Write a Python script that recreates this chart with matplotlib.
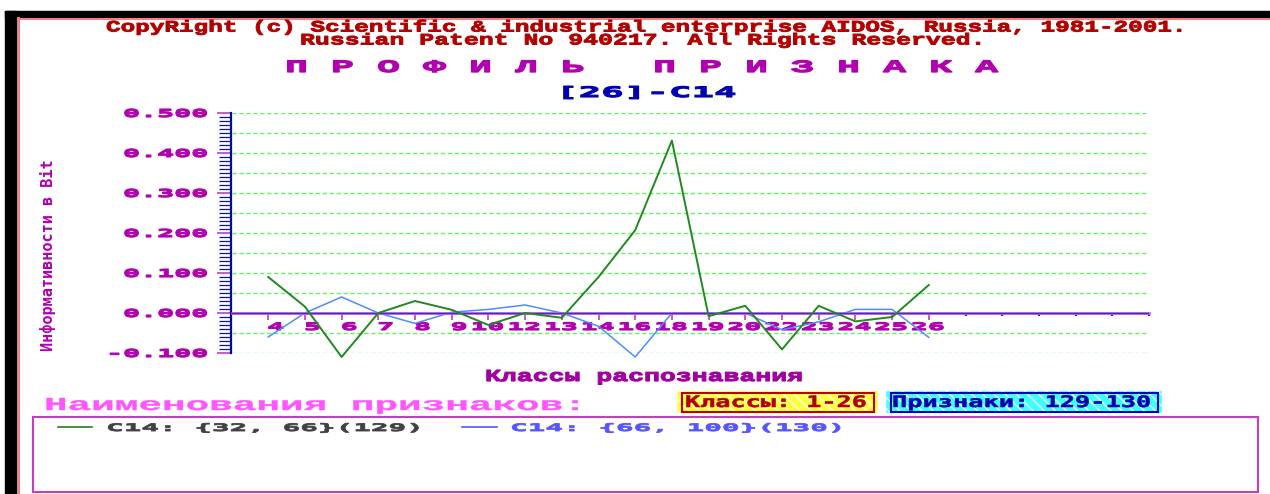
import numpy as np
import matplotlib
matplotlib.use("Agg")
import matplotlib.pyplot as plt
from matplotlib.patches import Rectangle
from matplotlib.patheffects import AbstractPathEffect
from matplotlib.ticker import MultipleLocator
from matplotlib.transforms import Affine2D

W, H = 1270, 494

# classes on the x axis; the axis has a few more empty slots on the right
classes = ["4", "5", "6", "7", "8", "9", "10", "12", "13", "14",
           "16", "18", "19", "20", "22", "23", "24", "25", "26"]
n_slots = 25
# information content (bit) of the two feature gradations per class
feat129 = [0.090, 0.016, -0.110, 0.000, 0.030, 0.008, -0.030, 0.000, -0.012, 0.090,
           0.207, 0.431, -0.008, 0.018, -0.091, 0.018, -0.021, -0.010, 0.070]
feat130 = [-0.060, 0.000, 0.040, 0.000, -0.026, 0.002, 0.009, 0.020, 0.000, -0.033,
           -0.110, 0.000, 0.000, 0.000, -0.042, -0.022, 0.009, 0.009, -0.061]
yticks = [-0.1, 0.0, 0.1, 0.2, 0.3, 0.4, 0.5]
legend_names = ["C14: {32, 66}(129)", "C14: {66, 100}(130)"]

RED = "#b00000"; MAG = "#b000b0"; NAVY = "#0000b0"; GRIDG = "#5cf55c"
GREEN = "#1f8a1f"; BLUE = "#4d8cff"

plt.rcParams["hatch.linewidth"] = 0.9


class Stretch(AbstractPathEffect):
    """Widen glyphs along the baseline (and fatten them a bit), like the old DOS screen font."""
    def __init__(self, sx, lw=0.0):
        super().__init__()
        self.sx = sx
        self.lw = lw

    def draw_path(self, renderer, gc, tpath, affine, rgbFace=None):
        tr = Affine2D().scale(self.sx, 1) + affine
        if self.lw:
            gc0 = renderer.new_gc()
            gc0.copy_properties(gc)
            gc0.set_linewidth(self.lw)
            gc0.set_foreground(rgbFace)
            renderer.draw_path(gc0, tpath, tr, rgbFace)
            gc0.restore()
        else:
            renderer.draw_path(gc, tpath, tr, rgbFace)


FONTS = {"sans": ("DejaVu Sans Mono", 0.729), "slab": ("Liberation Mono", 0.659)}


def wide(x, y, s, cap, pitch, color, font="sans", align="left", lw=0.5):
    # x, y in screen pixels (y down), y is the baseline; cap/pitch in pixels
    family, capr = FONTS[font]
    em = cap / capr
    sx = pitch / (0.6 * em)
    if align == "right":
        x -= len(s) * pitch
    elif align == "center":
        x -= len(s) * pitch / 2
    return bg.text(x, y, s, family=family, weight="bold", fontsize=em * 0.72,
                   color=color, ha="left", va="baseline",
                   path_effects=[Stretch(sx, lw)])


def badge(x, y, w, h, fill, edge):
    # hatched colour block with an inset border
    bg.add_patch(Rectangle((x, y), w, h, fc=fill, lw=0))
    bg.add_patch(Rectangle((x, y), w, h, fill=False, ec="white", hatch="\\\\\\", lw=0.3))
    bg.add_patch(Rectangle((x + 5, y + 1.5), w - 9, h - 3, fill=False, ec=edge, lw=1.5))


fig = plt.figure(figsize=(W / 100, H / 100), dpi=100, facecolor="white")
bg = fig.add_axes([0, 0, 1, 1])
bg.set_xlim(0, W); bg.set_ylim(H, 0); bg.axis("off")

ax = fig.add_axes([231.5 / W, 1 - 353 / H, (1149 - 231.5) / W, 240 / H])
ax.set_xlim(-1, n_slots - 1); ax.set_ylim(-0.1, 0.5)
ax.patch.set_alpha(0)


def to_px(x, y):
    return bg.transData.inverted().transform(ax.transData.transform((x, y)))


# ---- window frame -----------------------------------------------------------
bg.add_patch(Rectangle((5, 11), W - 5, 6, color="black"))
bg.add_patch(Rectangle((5, 11), 11, H - 11, color="black"))
bg.plot([17, 17], [17, H], color="#a0a0a0", lw=0.8)
bg.plot([18.8, 18.8], [18, H], color="#ff7a7a", lw=1.4)
bg.plot([18, W], [18.6, 18.6], color="#ff7a7a", lw=1.4)

# ---- header -------------------------------------------------------------------
wide(106, 31.5, "CopyRight (c) Scientific & industrial enterprise AIDOS, Russia, 1981-2001.",
     10.5, 14.6, RED, font="slab", lw=0.7)
wide(300, 44.5, "Russian Patent No 940217. All Rights Reserved.", 10.5, 14.9, RED,
     font="slab", lw=0.7)
wide(285, 72, "П Р О Ф И Л Ь   П Р И З Н А К А", 11.5, 23, MAG, font="slab", lw=0.9)
wide(556, 97, "[26]-C14", 10.5, 22.5, NAVY, lw=0.8)

# ---- plot area ------------------------------------------------------------------
ax.hlines(np.linspace(-0.1, 0.5, 13), -1, n_slots - 1.05, color=GRIDG, lw=1.0,
          linestyles=(0, (3, 2)), zorder=1)
for s in ("top", "right"):
    ax.spines[s].set_visible(False)
ax.spines["left"].set_color("#0000a0"); ax.spines["left"].set_linewidth(1.6)
ax.spines["bottom"].set_position(("data", 0))
ax.spines["bottom"].set_color("#e060e0"); ax.spines["bottom"].set_linewidth(2.0)
ax.spines["bottom"].set_zorder(3.4)
ax.axhline(0, color="#3a30c8", lw=1.0, zorder=3.5)

ax.set_yticks(yticks)
ax.yaxis.set_minor_locator(MultipleLocator(0.01))
ax.tick_params(axis="y", which="major", length=10, width=1.2, color="#c040c0", labelleft=False)
ax.tick_params(axis="y", which="minor", length=8.5, width=0.9, color="#1010b0")
ax.set_xticks(range(len(classes)))
ax.set_xticks(range(len(classes), n_slots), minor=True)
ax.tick_params(axis="x", which="major", direction="out", length=5, width=1.2,
               color="#c040c0", labelbottom=False)
ax.tick_params(axis="x", which="minor", direction="out", length=2.5, width=1.6, color="#6000c0")

xs = np.arange(len(classes))
ax.plot(xs, feat130, color=BLUE, lw=1.1, zorder=3, clip_on=False)
ax.plot(xs, feat129, color=GREEN, lw=1.4, zorder=4, clip_on=False)

for v in yticks:
    px, py = to_px(-1, v)
    wide(px - 23.5, py + 4, f"{v:.3f}", 8, 17, MAG, align="right", lw=0.8)
for i, lab in enumerate(classes):
    px, py = to_px(i, 0)
    wide(px + 16, py + 17, lab, 7.5, 17, MAG, align="right", lw=0.8)

bg.text(48, 255, "Информативности в Bit", rotation=90, ha="center", va="center",
        family="DejaVu Sans Mono", weight="bold", fontsize=11, color=MAG)
wide(485, 381, "Классы распознавания", 11, 15.9, "#a000a0", font="slab", lw=0.8)

# ---- bottom panel ----------------------------------------------------------------
wide(44, 410, "Наименования признаков:", 12, 23.6, "#ff55ff", font="slab", lw=0.3)

badge(677, 391, 201, 22, "#ffff40", "#c00000")
wide(685, 407, "Классы: 1-26", 11.5, 15.1, RED, lw=0.4)
badge(886, 391, 276, 22, "#40ffff", "#0000c0")
wide(892, 407, "Признаки: 129-130", 11.5, 15.2, NAVY, lw=0.4)

bg.add_patch(Rectangle((33, 416.5), 1258 - 33, 492 - 416.5, fill=False, ec="#c040c0", lw=1.5))
bg.plot([58, 92], [427, 427], color="#208020", lw=1.2)
wide(106, 431, legend_names[0], 7.5, 17.6, "#404040", lw=0.6)
bg.plot([462, 497], [427, 427], color="#5555ff", lw=1.2)
wide(510, 431, legend_names[1], 7.5, 17.6, "#5555ff", lw=0.6)

fig.savefig("out.png", dpi=100, facecolor="white")
